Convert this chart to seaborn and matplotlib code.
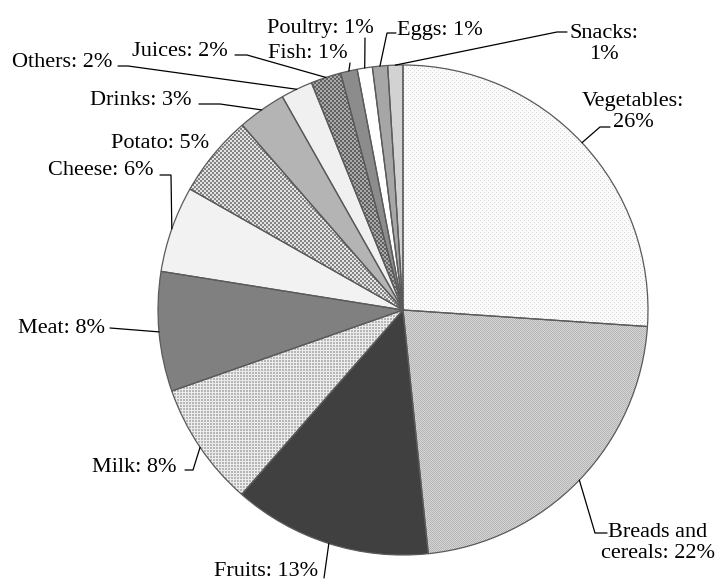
import numpy as np
import matplotlib
matplotlib.use("Agg")
import matplotlib.pyplot as plt
import seaborn as sns

# Share of household food spending by category (percent)
categories = ["Vegetables", "Breads and\ncereals", "Fruits", "Milk", "Meat", "Cheese",
              "Potato", "Drinks", "Others", "Juices", "Fish", "Poultry", "Eggs", "Snacks"]
shares = [26.1, 22.3, 13.1, 8.2, 7.9, 5.7, 5.4, 3.2, 2.1, 2.0, 1.1, 1.0, 1.0, 1.0]
# percentage goes on its own line for these labels
pct_on_new_line = [True, False, False, False, False, False,
                   False, False, False, False, False, False, False, True]

sns.set_theme(style="white")
plt.rcParams["font.family"] = ["Liberation Serif", "DejaVu Serif"]

W, H = 717, 582
CX, CY, R = 403, 310, 245          # pie centre and radius in pixels


def px(x, y):
    """pixel position -> data coordinates (unit-radius pie at origin)"""
    return (x - CX) / R, (CY - y) / R


face = {"Vegetables": "#f6f6f6", "Breads and\ncereals": "#c6c6c6", "Fruits": "#404040",
        "Milk": "#d0d0d0", "Meat": "#808080", "Cheese": "#f2f2f2", "Potato": "#b4b4b4",
        "Drinks": "#b4b4b4", "Others": "#f0f0f0", "Juices": "#828282", "Fish": "#8c8c8c",
        "Poultry": "#ffffff", "Eggs": "#a6a6a6", "Snacks": "#d2d2d2"}

# pixel textures for the patterned slices
yy, xx = np.mgrid[0:H, 0:W]


def texture(kind):
    g = np.full((H, W), 255.0)
    if kind == "fine_dots":
        g[:] = 251
        g[((xx % 4 == 0) & (yy % 4 == 0)) | ((xx % 4 == 2) & (yy % 4 == 2))] = 214
    elif kind == "fine_check":
        g[:] = 214
        g[(xx + yy) % 2 == 0] = 180
    elif kind == "dots":
        g[:] = 236
        g[(xx % 3 != 2) & (yy % 3 != 2)] = 182
    elif kind == "check":
        g[:] = 228
        g[((xx // 2) + (yy // 2)) % 2 == 0] = 132
    elif kind == "dark_check":
        g[:] = 170
        g[((xx // 2) + (yy // 2)) % 2 == 0] = 96
    return np.dstack([g, g, g]).astype(np.uint8)


patterns = {"Vegetables": "fine_dots", "Breads and\ncereals": "fine_check",
            "Milk": "dots", "Potato": "check", "Juices": "dark_check"}

fig = plt.figure(figsize=(W / 100, H / 100), dpi=100)
ax = fig.add_axes([0, 0, 1, 1])

x0, y1 = px(0, 0)
x1, y0 = px(W, H)

wedges, _ = ax.pie(shares, startangle=90, counterclock=False, radius=1,
                   colors=[face[c] for c in categories],
                   wedgeprops=dict(linewidth=0))

for w, name in zip(wedges, categories):
    if name in patterns:
        im = ax.imshow(texture(patterns[name]), extent=[x0, x1, y0, y1],
                       origin="upper", interpolation="nearest", zorder=2)
        im.set_clip_path(w)

# slice outlines on top of the textures
outlines, _ = ax.pie(shares, startangle=90, counterclock=False, radius=1,
                     colors=["none"] * len(shares),
                     wedgeprops=dict(edgecolor="#5a5a5a", linewidth=0.9))
for o in outlines:
    o.set_zorder(3)

# label layout: text position (px), alignment, leader elbow points (px)
layout = {
    "Vegetables": ((633, 127), "center", [(600, 127), (610, 127)]),
    "Breads and\ncereals": ((658, 558), "center", [(595, 533), (607, 533)]),
    "Fruits": ((318, 576), "right", [(324, 578)]),
    "Milk": ((177, 472), "right", [(193, 470), (185, 470)]),
    "Meat": ((105, 333), "right", [(110, 328)]),
    "Cheese": ((153, 175), "right", [(171, 175), (160, 175)]),
    "Potato": ((209, 148), "right", []),
    "Drinks": ((192, 105), "right", [(220, 104), (199, 104)]),
    "Others": ((112, 67), "right", [(128, 66), (118, 66)]),
    "Juices": ((228, 56), "right", [(247, 55), (235, 55)]),
    "Fish": ((268, 58), "left", [(350, 63)]),
    "Poultry": ((267, 33), "left", [(365, 38)]),
    "Eggs": ((397, 35), "left", [(387, 33), (396, 33)]),
    "Snacks": ((604, 59), "center", [(557, 32), (567, 32)]),
}

total = sum(shares)
for w, name, val, wrap in zip(wedges, categories, shares, pct_on_new_line):
    pct = int(round(val / total * 100))
    label = f"{name}:\n{pct}%" if wrap else f"{name}: {pct}%"
    (tx, ty), ha, elbow = layout[name]
    ax.text(*px(tx, ty), label, ha=ha, va="baseline", multialignment="center",
            fontsize=16, color="black", linespacing=1.15, zorder=5)
    if elbow:
        mid = np.deg2rad((w.theta1 + w.theta2) / 2)
        pts = [(np.cos(mid), np.sin(mid))] + [px(*p) for p in elbow]
        xs, ys = zip(*pts)
        ax.plot(xs, ys, color="black", linewidth=0.9, zorder=4,
                solid_joinstyle="miter")

ax.set_xlim(x0, x1)
ax.set_ylim(y0, y1)
ax.set_aspect("equal", adjustable="box")
ax.axis("off")

fig.savefig("out.png", dpi=100, facecolor="white")
